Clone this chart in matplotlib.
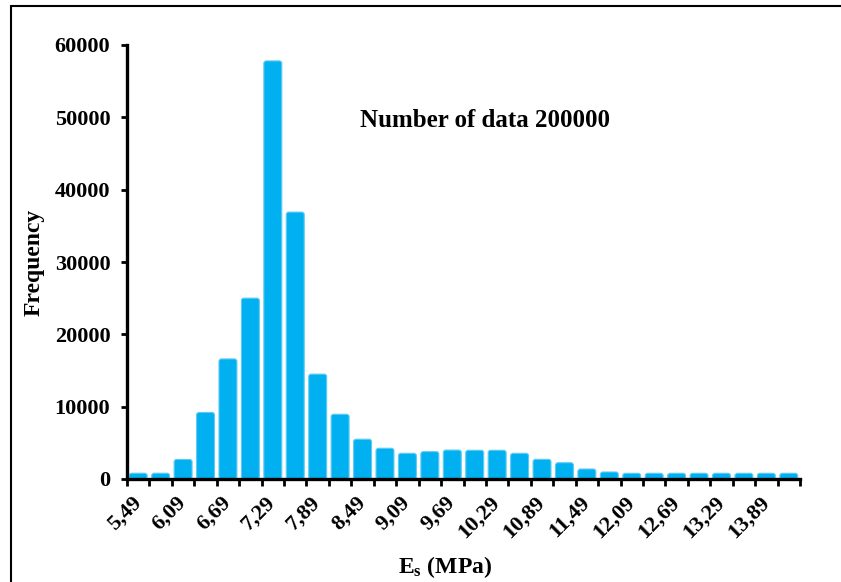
import matplotlib
matplotlib.use("Agg")
import matplotlib.pyplot as plt
from matplotlib.patches import FancyBboxPatch, Rectangle
import matplotlib.transforms as mtransforms
import numpy as np

plt.rcParams['font.family'] = ['Liberation Serif', 'DejaVu Serif']
plt.rcParams['font.weight'] = 'bold'
plt.rcParams['mathtext.fontset'] = 'custom'
plt.rcParams['mathtext.rm'] = 'Liberation Serif'
plt.rcParams['mathtext.bf'] = 'Liberation Serif:bold'

# ---- data ----
bin_start = 5.49
bin_step = 0.30
n_bins = 30
categories = [f"{bin_start + i * bin_step:.2f}".replace('.', ',') for i in range(n_bins)]
frequency = [800, 800, 2700, 9200, 16600, 25000, 57800, 36900, 14500, 8950,
             5500, 4250, 3550, 3780, 4000, 3970, 3970, 3550, 2720, 2250,
             1380, 970, 790, 790, 790, 790, 790, 790, 790, 790]
y_ticks = [0, 10000, 20000, 30000, 40000, 50000, 60000]
annotation = "Number of data 200000"

fig = plt.figure(figsize=(8.41, 5.82), dpi=100)
ax = fig.add_axes([127/841, 1 - 479/582, 673/841, 434/582])

x = np.arange(n_bins)
bars = ax.bar(x, frequency, width=0.8, color='#00B0F0', zorder=2)

# replace plain rectangles with rounded-top patches from the bar geometry
r_px = 2.5
px_per_x = 673 / 30.0
px_per_y = 434 / 60000.0
rs = r_px / px_per_x
aspect = (r_px / px_per_y) / rs
for b in bars:
    b.set_visible(False)
    p = FancyBboxPatch((b.get_x(), b.get_y()), b.get_width(), b.get_height(),
                       boxstyle=f"round,pad=0,rounding_size={rs}",
                       mutation_aspect=aspect, facecolor='#00B0F0',
                       edgecolor='#5FCBF3', linewidth=0.8, zorder=2)
    ax.add_patch(p)

ax.set_xlim(-0.5, n_bins - 0.5)
ax.set_ylim(0, 60000)

for s in ['top', 'right']:
    ax.spines[s].set_visible(False)
for s in ['left', 'bottom']:
    ax.spines[s].set_linewidth(2.4)
    ax.spines[s].set_zorder(3)

ax.set_yticks(y_ticks)
ax.set_yticklabels([str(v) for v in y_ticks])
ax.tick_params(axis='y', direction='out', length=4, width=2, labelsize=16, pad=8)

label_idx = x[::2]
ax.set_xticks(label_idx)
ax.set_xticklabels([categories[i] for i in label_idx], rotation=45, ha='right',
                   va='top', fontsize=16)
ax.set_xticks(np.arange(-0.5, n_bins, 1), minor=True)
ax.tick_params(axis='x', which='major', length=0, pad=10)
ax.tick_params(axis='x', which='minor', direction='out', length=5, width=2)
offset = mtransforms.ScaledTranslation(7/100, 0, fig.dpi_scale_trans)
for lbl in ax.get_xticklabels():
    lbl.set_transform(lbl.get_transform() + offset)

ax.set_ylabel("Frequency", fontsize=17, fontweight='bold')
ax.yaxis.set_label_coords(-0.122, 0.5)
ax.set_xlabel(r"$\mathbf{E_s}$ (MPa)", fontsize=17, fontweight='bold')
ax.xaxis.set_label_coords(0.4725, -0.172)

ax.text(0.346, 0.825, annotation, transform=ax.transAxes, ha='left', va='center',
        fontsize=18, fontweight='bold')

frame = Rectangle((11/841, -0.2), 2.0, (1 - 5.5/582) + 0.2, transform=fig.transFigure,
                  fill=False, edgecolor='black', linewidth=1.5, clip_on=False)
fig.patches.append(frame)

fig.savefig("out.png", dpi=100)
